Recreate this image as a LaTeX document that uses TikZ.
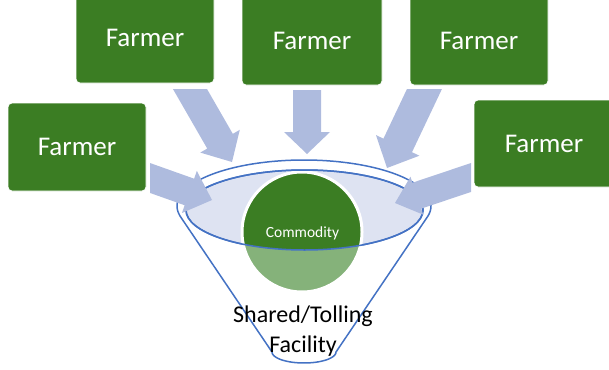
\documentclass[tikz,border=0pt]{standalone}
\usepackage{fontspec}
\setmainfont{Carlito}
\usetikzlibrary{calc}
\definecolor{farmgreen}{HTML}{3B7D23}
\definecolor{paleg}{HTML}{85B27A}
\definecolor{flowblue}{RGB}{174,187,222}
\definecolor{rimfill}{RGB}{222,227,242}
\definecolor{rimline}{HTML}{4472C4}
\tikzset{
  farmer/.style={rectangle, rounded corners=4pt, fill=farmgreen, draw=white, line width=0.8pt,
    text=white, font=\fontsize{27}{30}\selectfont, inner sep=0pt},
  flowarrow/.style={fill=flowblue},
  rim/.style={draw=rimline, line width=1.5pt},
  label24/.style={font=\fontsize{24}{28}\selectfont, text=black, anchor=base, inner sep=0pt},
}
% #1 start, #2 tip, #3 shaft half width, #4 head half width, #5 head length, #6 clip path
\newcommand\blockarrow[6]{%
  \begin{scope}
    \clip #6;
    \path ($(#2)!#5!(#1)$) coordinate (hb);
    \fill[flowarrow] ($(#1)!#3!90:(#2)$) -- ($(hb)!#3!90:(#2)$) -- ($(hb)!#4!90:(#2)$) -- (#2)
      -- ($(hb)!#4!-90:(#2)$) -- ($(hb)!#3!-90:(#2)$) -- ($(#1)!#3!-90:(#2)$) -- cycle;
  \end{scope}}
\begin{document}
\begin{tikzpicture}[x=1pt,y=-1pt]
\useasboundingbox (0,0) rectangle (609,369);

% funnel body
\filldraw[rim, fill=white]
  plot[domain=166.2:373.8, samples=90, variable=\t] ({304+127*cos(\t)},{206+46*sin(\t)})
  -- (336,352)
  -- plot[domain=0:180, samples=30, variable=\t] ({304+32*cos(\t)},{352+11*sin(\t)})
  -- cycle;
% inner rim
\draw[rim, fill=rimfill] (304.5,210) ellipse [x radius=118.5pt, y radius=40pt];

% commodity ball
\fill[paleg] (302,232) circle[radius=60pt];
\begin{scope}
  \clip plot[domain=180:0, samples=60, variable=\t] ({304.5+118.5*cos(\t)},{210+40*sin(\t)})
    -- (423,100) -- (186,100) -- cycle;
  \fill[farmgreen] (302,232) circle[radius=60pt];
\end{scope}
\draw[white, line width=3pt] (302,232) circle[radius=60pt];
\draw[rim] (304.5,210) ellipse [x radius=118.5pt, y radius=40pt];
\node[font=\fontsize{15.5}{18}\selectfont, text=white, anchor=base, inner sep=0pt] (com) at (302.5,237) {Commodity};

% farmers
\node[farmer, minimum width=138pt, minimum height=88pt] (f1) at (77,147) {Farmer};
\node[farmer, minimum width=138pt, minimum height=91pt] (f2) at (145,37.5) {Farmer};
\node[farmer, minimum width=140pt, minimum height=89pt] (f3) at (312,40.5) {Farmer};
\node[farmer, minimum width=138pt, minimum height=89pt] (f4) at (479,40.5) {Farmer};
\node[farmer, minimum width=140pt, minimum height=87pt] (f5) at (544,143.5) {Farmer};

% arrows
\coordinate (s1) at (131.2,171.3); \coordinate (t1) at (212,200);
\coordinate (s2) at (180,71.7);    \coordinate (t2) at (232,162);
\coordinate (s3) at (307,80);      \coordinate (t3) at (307,154);
\coordinate (s4) at (433,71);      \coordinate (t4) at (387,168);
\coordinate (s5) at (490,171.1);   \coordinate (t5) at (395,203);
\blockarrow{s1}{t1}{14.1pt}{22.3pt}{24pt}{(150,0) rectangle (609,369)}
\blockarrow{s2}{t2}{14.75pt}{22.8pt}{24pt}{(0,89) rectangle (609,369)}
\blockarrow{s3}{t3}{14pt}{23pt}{22pt}{(0,90) rectangle (609,369)}
\blockarrow{s4}{t4}{15.8pt}{24pt}{25pt}{(0,89) rectangle (609,369)}
\blockarrow{s5}{t5}{13.7pt}{20pt}{23pt}{(0,0) rectangle (471,369)}

% facility label
\node[label24] (fac1) at (303,322) {Shared/Tolling};
\node[label24] (fac2) at (303,352) {Facility};
\end{tikzpicture}
\end{document}
